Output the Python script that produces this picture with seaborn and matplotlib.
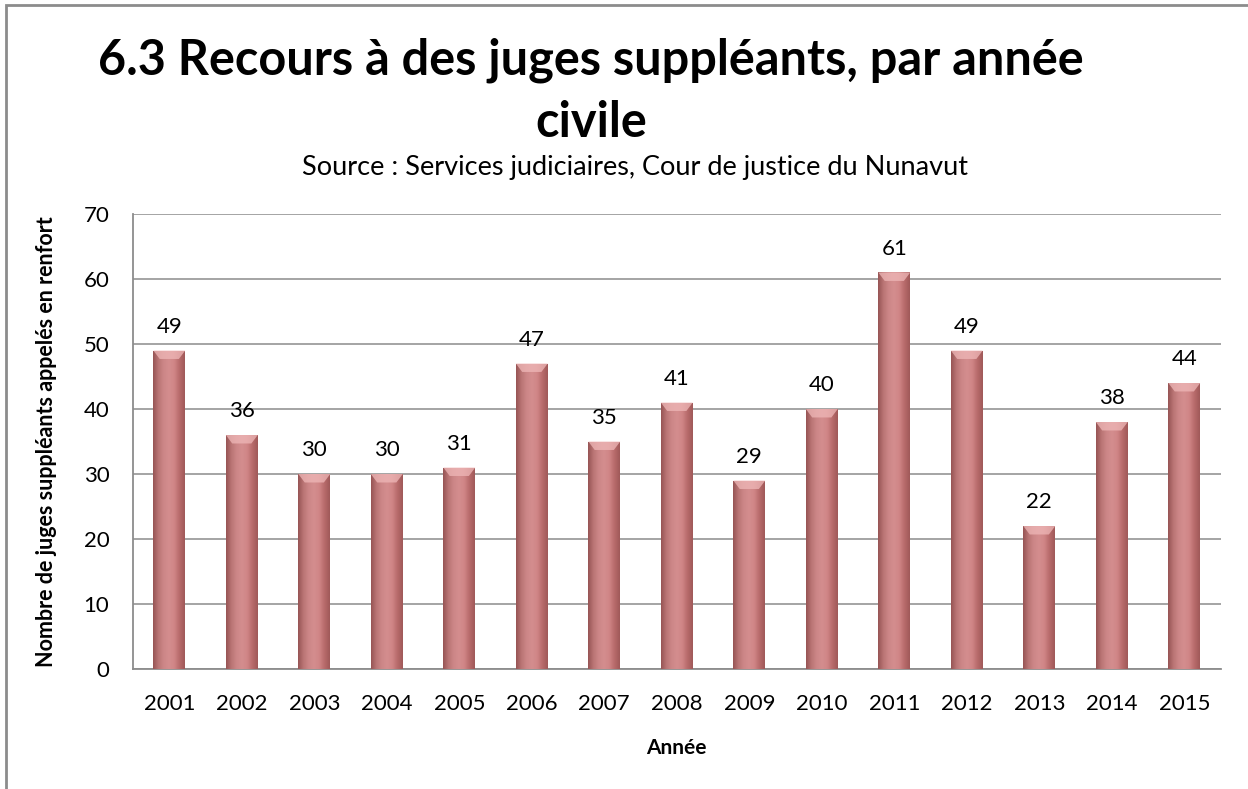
import numpy as np
import pandas as pd
import matplotlib
matplotlib.use("Agg")
import matplotlib.pyplot as plt
import seaborn as sns
from matplotlib.colors import LinearSegmentedColormap
from matplotlib.patches import Rectangle

years = ["2001", "2002", "2003", "2004", "2005", "2006", "2007", "2008",
         "2009", "2010", "2011", "2012", "2013", "2014", "2015"]
juges = [49, 36, 30, 30, 31, 47, 35, 41, 29, 40, 61, 49, 22, 38, 44]
y_ticks = [0, 10, 20, 30, 40, 50, 60, 70]

title = "6.3 Recours à des juges suppléants, par année\ncivile"
subtitle = "Source : Services judiciaires, Cour de justice du Nunavut"
x_label = "Année"
y_label = "Nombre de juges suppléants appelés en renfort"

df = pd.DataFrame({"annee": years, "juges": juges})

sns.set_theme(style="white")
plt.rcParams["font.family"] = ["Lato", "DejaVu Sans"]

fig = plt.figure(figsize=(12.48, 7.89), dpi=100)
ax = fig.add_axes([0.1066, 0.152, 0.8714, 0.5768])

sns.barplot(data=df, x="annee", y="juges", color="#c97b7b", width=0.44,
            saturation=1, ax=ax, zorder=3)

# cylinder-like shading for each bar
shade = LinearSegmentedColormap.from_list(
    "bar_shade", ["#a85e5e", "#cb8080", "#db9091", "#df9596", "#d78a8b", "#bb6d6d", "#a05959"])
nx, ny = 64, 64
u = np.linspace(0, 1, nx)
v = np.linspace(0, 1, ny)[:, None]
horiz = np.tile(u, (ny, 1))
for p in ax.patches:
    x0, y0 = p.get_x(), p.get_y()
    w, h = p.get_width(), p.get_height()
    rgba = shade(horiz)
    # slightly darker toward the base
    rgba[..., :3] *= (0.90 + 0.10 * v)
    im = ax.imshow(rgba, extent=[x0, x0 + w, y0, y0 + h], origin="lower",
                   aspect="auto", zorder=4, interpolation="bilinear")
    im.set_clip_path(p)
    # light bevel at the top of the bar
    cap = min(1.3, h * 0.1)
    ax.fill([x0, x0 + w, x0 + w * 0.8, x0 + w * 0.2],
            [y0 + h, y0 + h, y0 + h - cap, y0 + h - cap],
            color="#efb8b8", alpha=0.75, zorder=5, lw=0)
    p.set_edgecolor("none")

for i, val in enumerate(juges):
    ax.annotate(str(val), (i, val), xytext=(0, 10), textcoords="offset points",
                ha="center", va="bottom", fontsize=16, color="#000000")

ax.set_ylim(0, 70)
ax.set_yticks(y_ticks)
ax.set_xlim(-0.5, len(years) - 0.5)
ax.yaxis.grid(True, color="#8c8c8c", lw=1.1, zorder=0)
ax.set_axisbelow(True)

for side in ["top", "right"]:
    ax.spines[side].set_visible(False)
for side in ["left", "bottom"]:
    ax.spines[side].set_color("#8c8c8c")
    ax.spines[side].set_linewidth(1.3)

ax.set_xticks(np.arange(len(years)))
ax.set_xticklabels(years)
ax.set_xticks(np.arange(-0.5, len(years)), minor=True)
ax.tick_params(axis="x", which="major", length=0, pad=18, labelsize=16, colors="#000000")
ax.tick_params(axis="x", which="minor", length=8, width=1.3, color="#8c8c8c", direction="out")
ax.tick_params(axis="y", which="major", length=8, width=1.3, color="#8c8c8c",
               direction="out", labelsize=16, pad=9, labelcolor="#000000")
ax.tick_params(axis="x", labelcolor="#000000")

ax.set_xlabel(x_label, fontsize=15, fontweight="bold", labelpad=17, color="#000000")
ax.set_ylabel(y_label, fontsize=15.5, fontweight="bold", labelpad=19, color="#000000")

fig.text(0.4736, 0.952, title, ha="center", va="top", fontsize=35,
         fontweight="bold", linespacing=1.45, color="#000000")
fig.text(0.509, 0.788, subtitle, ha="center", va="center", fontsize=19.5, color="#000000")

fig.add_artist(Rectangle((0.005, -0.05), 1.2, 1.044, transform=fig.transFigure,
                         fill=False, edgecolor="#8c8c8c", lw=2))

fig.savefig("out.png", dpi=100)
